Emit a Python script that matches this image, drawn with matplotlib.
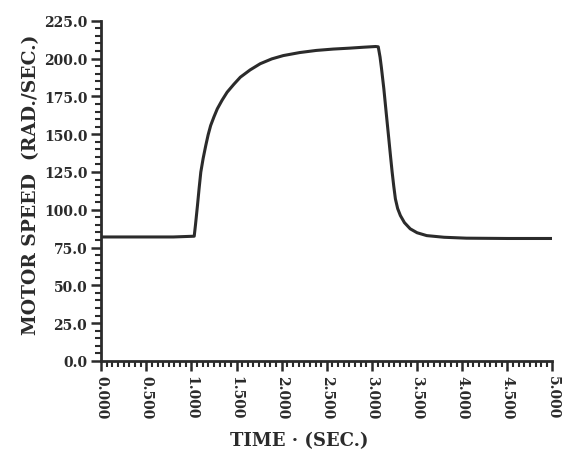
import matplotlib
matplotlib.use("Agg")
import matplotlib.pyplot as plt
from matplotlib.ticker import MultipleLocator
import numpy as np

# motor speed response
time_s = [0.0, 0.40, 0.80, 1.031, 1.045, 1.067, 1.085, 1.104, 1.130, 1.159, 1.185,
          1.213, 1.250, 1.287, 1.340, 1.396, 1.470, 1.542, 1.650, 1.762, 1.890,
          2.018, 2.200, 2.383, 2.570, 2.749, 2.900, 3.041, 3.070, 3.090, 3.105,
          3.132, 3.160, 3.187, 3.205, 3.224, 3.242, 3.260, 3.285, 3.315, 3.360,
          3.424, 3.500, 3.607, 3.800, 4.046, 4.500, 5.0]
speed = [82.0, 82.0, 82.0, 82.5, 90.0, 102.8, 114.0, 124.9, 134.0, 142.5, 149.5,
         155.7, 161.5, 166.8, 172.5, 177.8, 183.0, 187.7, 192.5, 196.6, 199.8,
         202.0, 204.0, 205.4, 206.3, 206.9, 207.5, 208.0, 207.8, 201.0, 194.0,
         180.0, 163.0, 146.9, 136.0, 124.9, 115.5, 107.2, 100.8, 96.2, 91.5,
         87.4, 84.8, 82.9, 81.8, 81.2, 81.0, 81.0]

x_ticks = np.arange(0, 5.01, 0.5)
x_labels = [f"{v:.3f}" for v in x_ticks]
y_ticks = np.arange(0, 225.1, 25)
y_labels = [f"{v:.1f}" for v in y_ticks]

ink = "#2b2b2b"
font = dict(family="DejaVu Serif", weight="bold", color=ink)

fig = plt.figure(figsize=(5.62, 4.64), dpi=100)
ax = fig.add_axes([0.18, 0.22, 0.803, 0.733])

ax.plot(time_s, speed, color=ink, lw=2.2, solid_joinstyle="round")

ax.set_xlim(0, 5.0)
ax.set_ylim(0, 225)
ax.spines["top"].set_visible(False)
ax.spines["right"].set_visible(False)
for sp in ("left", "bottom"):
    ax.spines[sp].set_linewidth(2.0)
    ax.spines[sp].set_color(ink)

ax.set_xticks(x_ticks)
ax.set_xticklabels(x_labels, rotation=-90, fontsize=10, **font)
ax.set_yticks(y_ticks)
ax.set_yticklabels(y_labels, fontsize=10, **font)
ax.xaxis.set_minor_locator(MultipleLocator(0.0625))
ax.yaxis.set_minor_locator(MultipleLocator(5))
ax.tick_params(which="major", direction="out", length=7, width=1.8, color=ink, pad=3)
ax.tick_params(which="minor", direction="out", length=4, width=1.5, color=ink)

ax.set_xlabel("TIME · (SEC.)", fontsize=13, labelpad=9, x=0.44, **font)
ax.set_ylabel("MOTOR SPEED  (RAD./SEC.)", fontsize=13.5, labelpad=3, y=0.52, **font)

fig.savefig("out.png", dpi=100)
